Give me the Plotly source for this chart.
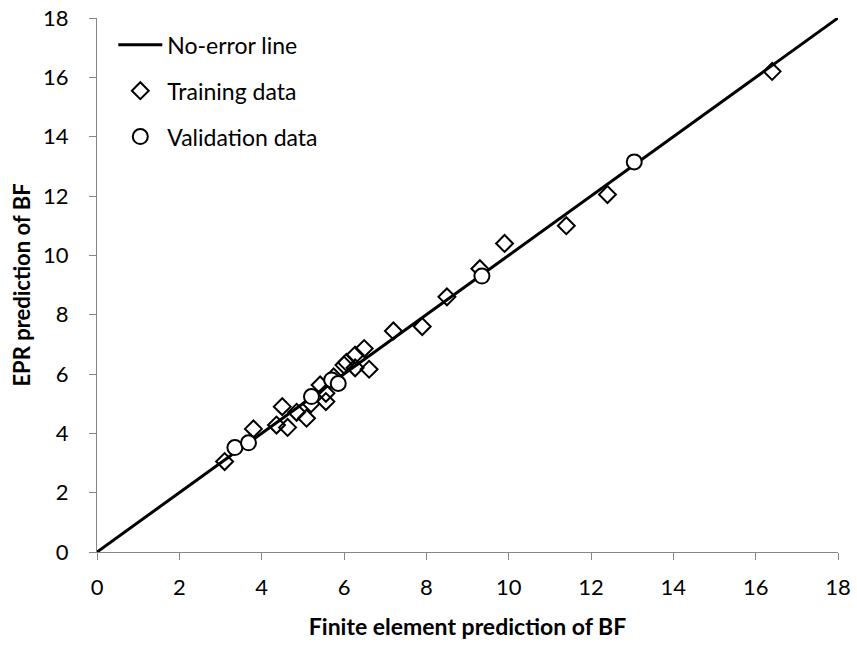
import plotly.graph_objects as go

line_x = [0, 18]
line_y = [0, 18]

train_x = [3.10, 3.80, 4.36, 4.50, 4.63, 4.85, 5.09, 5.20, 5.42, 5.56, 5.56, 5.75, 6.00, 6.06, 6.27, 6.27, 6.49, 6.61, 7.20, 7.90, 8.50, 9.30, 9.90, 11.40, 12.40, 16.40]
train_y = [3.05, 4.15, 4.28, 4.90, 4.20, 4.71, 4.51, 5.00, 5.63, 5.35, 5.07, 5.90, 6.30, 6.39, 6.64, 6.21, 6.86, 6.16, 7.45, 7.60, 8.60, 9.55, 10.40, 11.00, 12.05, 16.20]

valid_x = [3.35, 3.68, 5.21, 5.70, 5.86, 9.35, 13.05]
valid_y = [3.52, 3.68, 5.24, 5.80, 5.68, 9.30, 13.15]

font_family = "Lato, 'Open Sans', sans-serif"

fig = go.Figure()
fig.add_trace(go.Scatter(x=line_x, y=line_y, mode="lines", name="No-error line",
                         line=dict(color="black", width=3), legendgroup="a"))
fig.add_trace(go.Scatter(x=train_x, y=train_y, mode="markers", name="Training data",
                         marker=dict(symbol="diamond-open", size=13, color="black",
                                     line=dict(width=2, color="black")), legendgroup="b"))
fig.add_trace(go.Scatter(x=valid_x, y=valid_y, mode="markers", name="Validation data",
                         marker=dict(symbol="circle", size=15, color="white",
                                     line=dict(width=2, color="black")), legendgroup="c"))

axis_common = dict(range=[0, 18], dtick=2, showgrid=False, zeroline=False,
                   showline=True, linecolor="#868686", linewidth=1.3,
                   ticks="outside", ticklen=7, tickcolor="#868686", automargin=False,
                   ticklabeloverflow="allow",
                   tickfont=dict(size=22, color="black", family=font_family))

fig.update_xaxes(**axis_common, ticklabelstandoff=8,
                 title=dict(text="<b>Finite element prediction of BF</b>",
                            font=dict(size=23, color="black", family=font_family), standoff=20))
fig.update_yaxes(**axis_common, ticklabelstandoff=16,
                 title=dict(text="<b>EPR prediction of BF</b>",
                            font=dict(size=22, color="black", family=font_family), standoff=6))

fig.update_layout(
    width=857, height=646,
    margin=dict(l=97, r=19, t=18, b=94),
    plot_bgcolor="white", paper_bgcolor="white",
    showlegend=True,
    legend=dict(x=0.022, y=0.99, xanchor="left", yanchor="top",
                bgcolor="rgba(0,0,0,0)", font=dict(size=23, color="black", family=font_family),
                tracegroupgap=13, traceorder="grouped", itemwidth=44),
)

fig.write_html("out.html", config={"displayModeBar": False},
               post_script="document.body.style.margin='0';document.body.style.overflow='hidden';")
